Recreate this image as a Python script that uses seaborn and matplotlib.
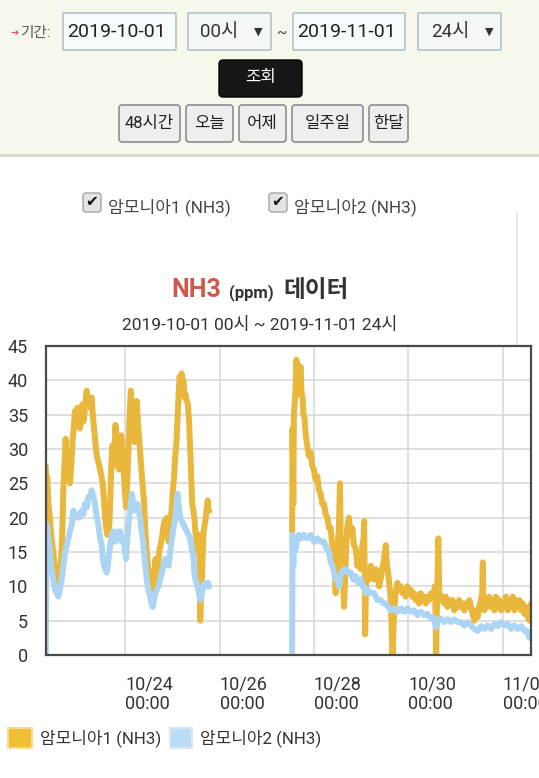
import numpy as np
import pandas as pd
import seaborn as sns
import matplotlib.pyplot as plt
from matplotlib.patches import FancyBboxPatch, Rectangle

# hours relative to 2019-10-24 00:00, values in ppm
seg1_gold_h = [-40.3, -40.0, -39.6, -39.0, -38.2, -37.4, -36.5, -35.6, -34.8, -33.8, -33.0, -32.3,
               -31.8, -31.4, -30.8, -30.2, -29.7, -29.2, -28.6, -28.0, -27.3, -26.7, -26.1, -25.5,
               -24.9, -24.3, -23.6, -22.9, -22.3, -21.7, -21.2, -20.7, -20.1, -19.5, -18.8, -18.2,
               -17.6, -17.0, -16.4, -15.8, -15.1, -14.4, -13.5, -12.7, -12.0, -11.4, -10.8, -10.2,
               -9.6, -9.0, -8.5, -8.0, -7.5, -7.1, -6.5, -6.0, -5.6, -4.9, -4.4, -3.9, -3.5, -3.1,
               -2.6, -2.0, -1.4, -0.85, -0.2, 0.5, 1.1, 1.7, 2.3, 2.9, 3.4, 3.9, 4.4, 4.8, 5.3,
               5.9, 6.5, 7.0, 7.7, 8.3, 9.0, 9.7, 10.3, 11.0, 11.6, 12.1, 12.7, 13.2, 13.8, 14.4,
               14.9, 15.5, 16.0, 16.3, 16.8, 17.3, 18.0, 18.7, 19.4, 20.0, 20.6, 21.2, 21.7, 22.1,
               22.5, 22.9, 23.6, 24.3, 24.9, 25.5, 26.1, 26.7, 27.2, 27.7, 28.2, 28.7, 29.2, 29.7,
               30.2, 30.7, 31.3, 31.9, 32.5, 33.1, 33.6, 34.1, 34.7, 35.2, 35.7, 36.2, 36.6, 37.0,
               37.4, 37.7, 38.0, 38.2, 38.5, 38.9, 39.4, 39.9, 40.5, 41.0, 41.5, 42.0, 42.4, 42.8]
seg1_gold_v = [27.5, 20, 26, 22, 20, 17, 15, 12.5, 11.5, 10.5, 12, 15,
               19, 24, 28, 31.5, 27, 28.5, 25.5, 25, 28, 31, 33, 35.5,
               33.5, 36, 34, 33, 35, 36.5, 34, 35, 37, 38.5, 36.5, 37.5,
               36, 37.5, 35, 33, 31, 29, 28, 27, 26, 25, 23, 20,
               18.5, 17.5, 18, 19, 23, 27, 30.5, 27.5, 28, 33.5, 31, 29, 30, 27,
               29, 32, 30, 28, 24, 21.5, 25, 30, 35, 38.5, 36, 34, 32, 31, 34,
               37, 34, 32, 29, 27, 24.5, 22, 18, 15, 13, 12, 11, 10, 11, 9.5,
               12, 14, 12, 10.5, 13, 15, 16, 17, 18.5, 19.5, 19, 20, 18, 16.5,
               18, 19, 21, 24, 26, 29, 31, 35, 38, 40.5, 39, 41, 39.5, 40,
               37.5, 38, 37, 36.5, 34, 30, 26, 22, 21, 20, 18, 17, 16, 15,
               16, 17.5, 12, 5, 8, 10, 14, 18, 19, 20, 21.5, 22.5, 21, 21]

seg1_blue_h = [-40.3, -39.9, -39.0, -38.2, -37.4, -36.5, -35.6, -34.8, -33.9, -33.1, -32.2, -31.4,
               -30.5, -29.7, -28.8, -28.0, -27.1, -26.3, -25.4, -24.6, -23.3, -22.1, -21.2, -20.4,
               -19.5, -18.7, -17.8, -17.0, -16.1, -15.3, -14.4, -13.6, -12.7, -11.9, -11.3, -10.7,
               -10.0, -9.3, -8.4, -7.6, -6.7, -5.9, -5.0, -4.2, -3.3, -2.5, -1.7, -0.85, -0.2, 0.5,
               1.1, 1.7, 2.5, 3.4, 4.2, 5.1, 5.6, 6.2, 6.9, 7.6, 8.4, 9.3, 10.1, 11.0, 11.8, 12.7,
               13.4, 14.1, 14.7, 15.3, 16.1, 17.0, 17.8, 18.7, 19.5, 20.4, 21.2, 22.1, 22.9, 23.8,
               24.6, 25.5, 26.1, 26.7, 27.3, 28.0, 28.8, 29.7, 30.5, 31.4, 32.2, 33.1, 33.9, 34.8,
               35.2, 35.7, 36.3, 36.9, 37.5, 38.2, 39.0, 39.9, 40.7, 41.6, 42.2, 42.8]
seg1_blue_v = [0, 19, 17, 15, 12.5, 11, 9.5, 9, 8.5, 9.5, 11, 13,
               15, 16, 17, 18, 19, 21, 20, 20.5, 20, 21, 20.5, 22,
               21.5, 23, 23, 24, 23, 22, 20, 19, 17, 16, 14, 13,
               12.5, 12, 14, 16, 17.5, 18, 16.5, 17, 18, 18, 16.5, 17, 15.5, 14,
               17, 19, 21, 23.5, 22, 21, 22, 22, 21, 20, 18, 16, 13.5, 11, 9.5, 8.5,
               7.5, 7, 8, 9, 9.5, 10, 11, 12, 13, 14, 14, 13, 15, 17,
               18.5, 20, 22, 23.5, 21.5, 20, 19.5, 19, 18.5, 18, 17.5, 17, 15.5, 14,
               12, 11, 10.5, 10, 9, 8, 9, 10, 10.5, 10, 10.5, 10]

seg2_gold_h = [84.9, 85.1, 85.5, 85.8, 86.5, 87.1, 87.6, 88.0, 88.6, 89.2, 89.7, 90.2, 90.7,
               91.2, 91.8, 92.6, 93.4, 94.3, 95.1, 96.0, 96.8, 97.7, 98.5, 99.4, 100.2, 101.1,
               101.9, 102.8, 103.6, 104.5, 105.2, 105.8, 106.5, 107.0, 107.5, 107.9, 108.6,
               109.2, 109.6, 109.9, 110.6, 111.3, 111.8, 112.3, 113.0, 113.8, 114.6, 115.5,
               116.3, 117.2, 118.0, 118.9, 119.7, 120.6, 121.2, 121.5, 121.8, 122.0, 122.5,
               123.2, 124.0, 124.9, 125.8, 126.6, 127.4, 128.2, 129.1, 129.9, 130.7, 131.6,
               132.5, 133.1, 133.7, 134.4, 135.0, 135.9, 136.7, 137.5, 138.4, 139.2, 140.1,
               141.0, 141.8, 142.6, 143.5, 144.3, 145.2, 146.0, 146.9, 147.7, 148.6, 149.4,
               150.3, 151.1, 152.0, 152.8, 153.7, 154.5, 155.4, 156.5, 157.5, 158.1, 158.6,
               159.2, 159.7, 160.2, 161.2, 162.2, 163.0, 163.9, 164.7, 165.6, 166.4, 167.3,
               168.1, 169.0, 169.8, 170.7, 171.5, 172.4, 173.2, 174.1, 175.0, 175.8, 176.6,
               177.5, 178.3, 179.2, 180.0, 180.9, 181.5, 181.8, 182.1, 182.6, 183.4, 184.3,
               185.1, 186.0, 186.8, 187.7, 188.5, 189.4, 190.2, 191.1, 191.9, 192.8, 193.6,
               194.5, 195.3, 196.2, 197.0, 197.9, 198.7, 199.6, 200.4, 201.3, 202.1, 203.0,
               203.8, 204.7, 205.6, 206.0, 206.4]
seg2_gold_v = [18, 33, 22, 35, 38, 43, 40, 38, 41, 42, 38, 37.5, 35,
               34.5, 32, 30.5, 29, 29.5, 27.5, 27, 25.5, 26, 24, 23.5, 22, 22,
               20.5, 20, 18.5, 18.5, 16, 15.5, 13, 9, 14, 16, 18,
               25, 17, 14, 12, 7, 11, 15, 19, 20, 17.5, 18.5,
               16, 15.5, 13, 14, 12.5, 16, 17, 19.5, 11, 3, 11,
               12.5, 11, 13, 11.5, 11, 12.5, 11.5, 10, 11, 12.5, 14,
               16, 13, 12, 10, 8, 0, 6, 9, 10.5, 9.5, 10,
               9, 9.5, 8.5, 10, 9, 9.5, 8.5, 9, 8, 8.5, 7.5,
               9, 8, 8.5, 7.5, 8.5, 8, 9, 8.5, 10, 0, 9,
               17, 9, 8, 8.5, 7.5, 8.5, 7, 8, 7.5, 8, 6.5,
               7.5, 7, 8, 7, 7.5, 6.5, 7.5, 7, 8, 7, 6,
               5, 6.5, 5.5, 7, 8, 9, 13.5, 8, 6.5, 8, 7,
               8.5, 7, 8, 6.5, 8.5, 7, 8, 6.5, 7.5, 7, 8.5,
               6.5, 8, 7, 8.5, 6.5, 8, 7, 8, 6.5, 7.5, 6,
               7, 5.5, 5, 7, 7.5]

seg2_blue_h = [84.9, 85.1, 85.5, 85.8, 86.8, 87.5, 88.3, 89.5, 90.9, 92.5, 94.3, 96.0, 97.7,
               99.4, 101.1, 102.4, 103.6, 104.5, 105.3, 106.2, 107.0, 107.9, 108.7, 109.5,
               110.4, 111.2, 112.1, 113.4, 114.7, 116.0, 117.2, 118.5, 119.8, 120.6, 121.5,
               122.3, 123.2, 124.9, 126.6, 128.2, 129.9, 131.2, 132.5, 133.7, 135.0, 136.7,
               138.4, 140.1, 141.8, 143.5, 145.2, 146.9, 148.6, 150.3, 152.0, 153.7, 155.4,
               156.7, 158.0, 158.8, 160.5, 162.2, 163.9, 165.6, 167.3, 169.0, 170.7, 172.4,
               174.1, 175.8, 177.5, 179.2, 180.9, 182.6, 184.3, 186.0, 187.7, 189.4, 191.1,
               192.8, 194.5, 196.2, 197.9, 199.6, 201.3, 203.0, 204.3, 205.6, 206.4]
seg2_blue_v = [0, 17.5, 13, 15, 15.5, 17, 17.5, 17, 17.5, 17, 17.5, 16.5, 17,
               16.5, 16.5, 15.5, 15, 13.5, 13, 12, 11, 11, 10, 11.5,
               12, 12.5, 12.5, 12, 12, 11, 11.5, 10.5, 11, 10, 10,
               9, 9.5, 9, 9, 8, 8, 7.5, 7.5, 7, 6.5, 6.8,
               6.3, 6.8, 6.3, 6.8, 6.3, 6.5, 5.8, 6.3, 5.8, 6, 5.3,
               5.5, 4, 5, 5.3, 4.8, 5.2, 4.8, 5.2, 4.8, 4.8, 4.3,
               4.8, 4.3, 3.8, 3.5, 4.2, 3.8, 4.3, 3.8, 4.5, 4.2, 4.8,
               4.3, 4.5, 3.8, 4.3, 3.8, 4.2, 3.5, 3.5, 2.5, 3]

series_names = ["암모니아1 (NH3)", "암모니아2 (NH3)"]
x_ticks = ["2019-10-24", "2019-10-26", "2019-10-28", "2019-10-30", "2019-11-01"]
x_tick_labels = ["10/24\n00:00", "10/26\n00:00", "10/28\n00:00", "10/30\n00:00", "11/01\n00:00"]
y_ticks = [0, 5, 10, 15, 20, 25, 30, 35, 40, 45]

GOLD = "#e9b73b"
BLUE = "#abd5f2"
W, H = 539, 778

base = pd.Timestamp("2019-10-24")
parts = []
for name, seg, hrs, vals in [
    (series_names[0], 1, seg1_gold_h, seg1_gold_v),
    (series_names[0], 2, seg2_gold_h, seg2_gold_v),
    (series_names[1], 1, seg1_blue_h, seg1_blue_v),
    (series_names[1], 2, seg2_blue_h, seg2_blue_v),
]:
    parts.append(pd.DataFrame({"time": base + pd.to_timedelta(hrs, unit="h"),
                               "value": vals, "series": name, "segment": seg}))
df = pd.concat(parts, ignore_index=True)

sns.set_style("white")
plt.rcParams["font.family"] = ["Roboto", "Noto Sans CJK KR", "DejaVu Sans"]

fig = plt.figure(figsize=(W / 100, H / 100), dpi=100)

# page background / UI in pixel coordinates
bg = fig.add_axes([0, 0, 1, 1])
bg.set_xlim(0, W)
bg.set_ylim(H, 0)
bg.axis("off")
bg.add_patch(Rectangle((0, 0), W, 154, color="#f6f8ec", zorder=0))
bg.plot([0, W], [154.5, 154.5], color="#d6dacb", lw=2)


def box(x0, y0, x1, y1, fc, ec, r=2, lw=1.0):
    bg.add_patch(FancyBboxPatch((x0, y0), x1 - x0, y1 - y0,
                                boxstyle=f"round,pad=0,rounding_size={r}",
                                fc=fc, ec=ec, lw=lw))


TXT = "#333333"
bg.text(10, 33, "➔", color="#e0507a", fontsize=7, va="center", ha="left", family="DejaVu Sans")
bg.text(20, 33, "기간:", color="#555555", fontsize=10.5, va="center", ha="left")
box(63, 13, 176, 50, "#f6fbfc", "#a8b8bf", r=1)
bg.text(67, 32, "2019-10-01", color="#222222", fontsize=14, va="center", ha="left")
box(188, 13, 271, 50, "#f3f8f6", "#a8b8bf", r=1)
bg.text(200, 32, "00시", color="#333333", fontsize=13.5, va="center", ha="left")
bg.text(258, 32, "▼", color="#333333", fontsize=8, va="center", ha="center", family="DejaVu Sans")
bg.text(282, 34, "~", color="#444444", fontsize=11, va="center", ha="center")
box(293, 13, 405, 50, "#f6fbfc", "#a8b8bf", r=1)
bg.text(297, 32, "2019-11-01", color="#222222", fontsize=14, va="center", ha="left")
box(418, 13, 501, 50, "#f3f8f6", "#a8b8bf", r=1)
bg.text(431, 32, "24시", color="#333333", fontsize=13.5, va="center", ha="left")
bg.text(489, 32, "▼", color="#333333", fontsize=8, va="center", ha="center", family="DejaVu Sans")

box(219, 60, 302, 97, "#161616", "#000000", r=4)
bg.text(260.5, 77, "조회", color="white", fontsize=12, va="center", ha="center")

for x0, x1, lab in [(119, 180, "48시간"), (186, 233, "오늘"), (239, 286, "어제"),
                    (292, 363, "일주일"), (369, 408, "한달")]:
    box(x0, 105, x1, 142, "#eeeeee", "#8f8f8f", r=3, lw=1.2)
    bg.text((x0 + x1) / 2, 123.5, lab, color="#222222", fontsize=12, va="center", ha="center")

# series checkboxes
for x0, lab in [(83, series_names[0]), (269, series_names[1])]:
    box(x0, 193, x0 + 18, 212, "#e4e4e4", "#a5a5a5", r=3)
    bg.text(x0 + 9, 201, "✔", color="#111111", fontsize=11, va="center", ha="center",
            family="DejaVu Sans")
    bg.text(x0 + 25, 207, lab, color="#444444", fontsize=12.3, va="center", ha="left")

bg.plot([517, 517], [212, 345], color="#e4e4e4", lw=1.2)

# title
bg.text(171, 297, "NH3", color="#d0574b", fontsize=18, fontweight="bold", ha="left", va="baseline")
bg.text(229, 297, "(ppm)", color="#333333", fontsize=12, fontweight="bold", ha="left", va="baseline")
bg.text(283, 297, "데이터", color="#333333", fontsize=17, fontweight="bold", ha="left", va="baseline")
bg.text(260, 330, "2019-10-01 00시 ~ 2019-11-01 24시", color=TXT, fontsize=12.5,
        ha="center", va="baseline")

# legend
bg.add_patch(Rectangle((8, 728), 24, 20, fc="#f0be33", ec="#f3dc9c", lw=1.5))
bg.text(40, 738, series_names[0], color=TXT, fontsize=12.2, va="center", ha="left")
bg.add_patch(Rectangle((170, 728), 22, 20, fc="#bcdcf6", ec="#d7e6f0", lw=1.5))
bg.text(200, 738, series_names[1], color=TXT, fontsize=12.2, va="center", ha="left")

# chart
ax = fig.add_axes([46 / W, 1 - 655 / H, (531 - 46) / W, (655 - 346) / H])
ax.set_facecolor("white")
sns.lineplot(data=df, x="time", y="value", hue="series", units="segment", estimator=None,
             palette=[GOLD, BLUE], linewidth=4.3, legend=False, ax=ax)

ax.set_ylim(0, 45)
ax.set_yticks(y_ticks)
ax.set_xlim(base - pd.Timedelta(hours=40.2), base + pd.Timedelta(hours=206.3))
ax.set_xticks(pd.to_datetime(x_ticks))
ax.set_xticklabels(x_tick_labels, ha="left", linespacing=1.05)
ax.grid(True, color="#d9d9d9", lw=1.2)
ax.set_axisbelow(True)
ax.set_xlabel("")
ax.set_ylabel("")
ax.tick_params(axis="both", length=0, labelsize=13, colors=TXT)
ax.tick_params(axis="y", pad=13)
ax.tick_params(axis="x", pad=15)
for s in ax.spines.values():
    s.set_visible(True)
    s.set_color("#4a4a4a")
    s.set_linewidth(1.6)

fig.savefig("out.png", dpi=100)
